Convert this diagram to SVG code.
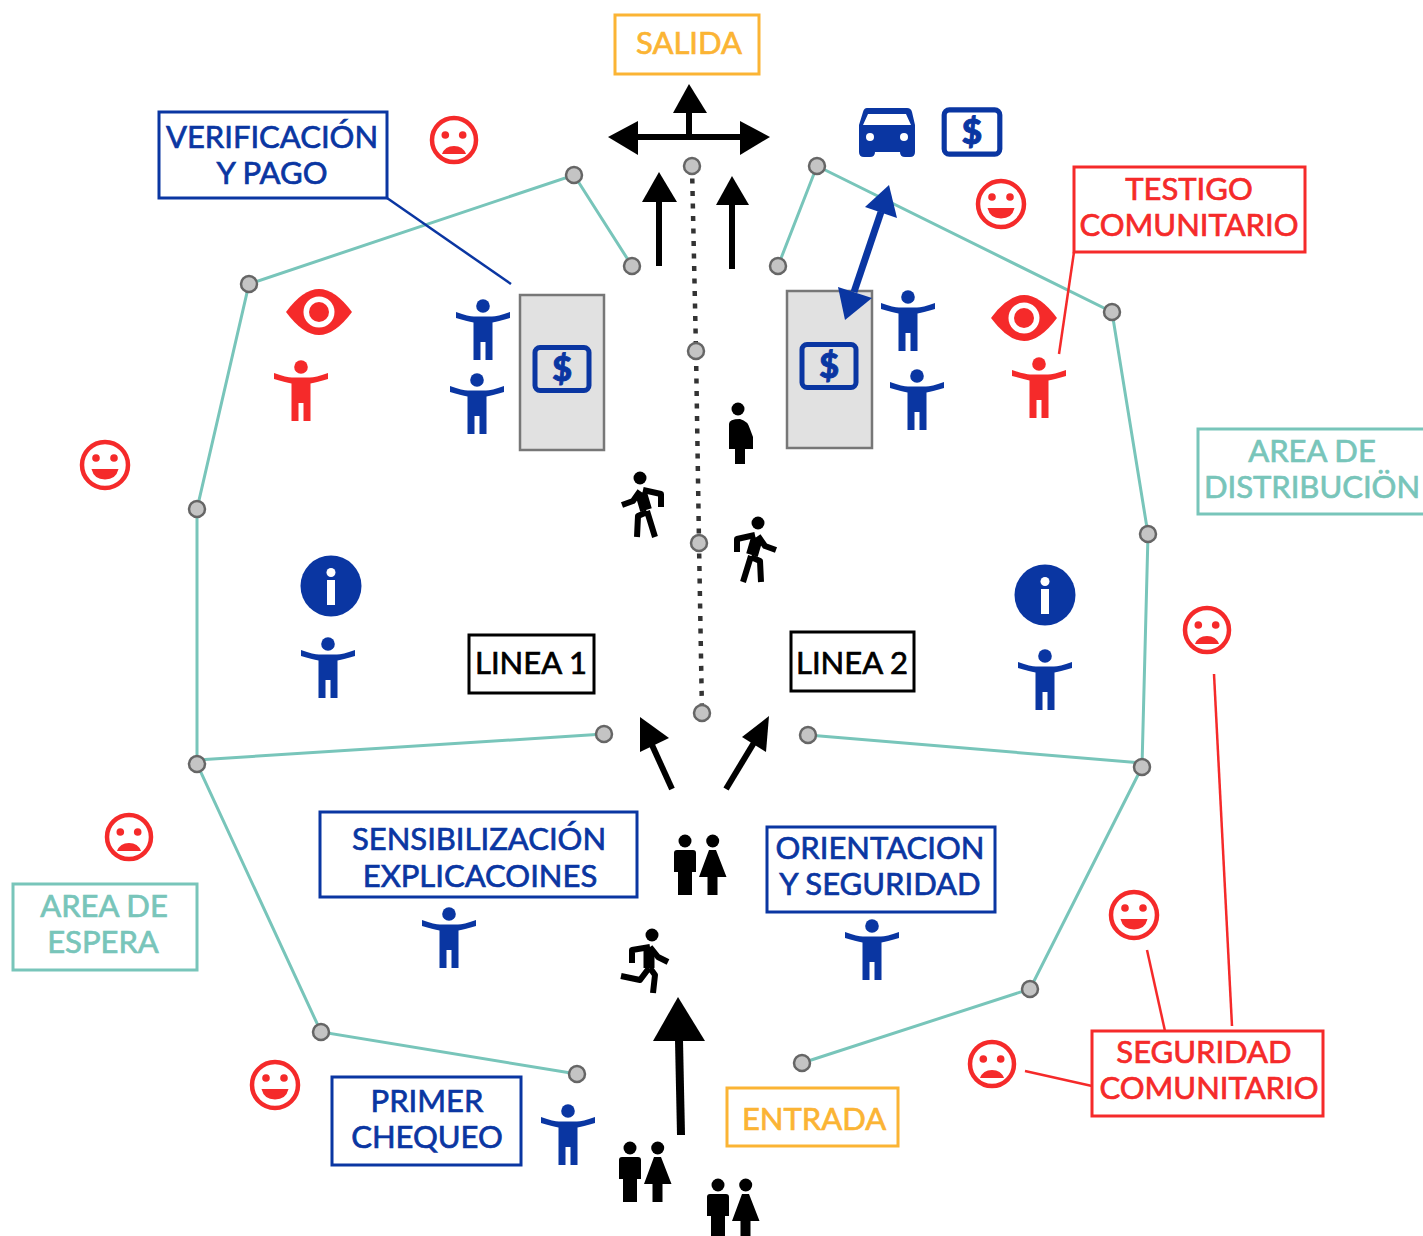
<svg xmlns="http://www.w3.org/2000/svg" width="1423" height="1236" viewBox="0 0 1423 1236">
<style>
.b{fill:#fff;stroke-width:3}
.t{font-family:Lato,"Liberation Sans",sans-serif;font-size:31px;text-anchor:middle;stroke-width:.7}
.blue{stroke:#0a36a2}.tb{fill:#0a36a2;stroke:#0a36a2}
.red{stroke:#f52a2a}.tr{fill:#f52a2a;stroke:#f52a2a}
.org{stroke:#fbb434}.to{fill:#fbb434;stroke:#fbb434}
.tea{stroke:#78c5ba}.tt{fill:#78c5ba;stroke:#78c5ba}
.blk{stroke:#000}.tk{fill:#000;stroke:#000}
.wire{fill:none;stroke:#78c5ba;stroke-width:3}
.dot{fill:none;stroke:#333;stroke-width:4.500;stroke-dasharray:5 7.500}
.n{fill:#c4c4c4;stroke:#666;stroke-width:2.500}
.ar{fill:none;stroke:#000;stroke-width:6}
.ln{fill:none;stroke-width:2.500}
.i{fill:none;stroke:#000;stroke-linejoin:round}
</style>
<defs>
<symbol id="person" overflow="visible"><circle cx="0" cy="0" r="6.800"/><path d="M-27,6 Q-14,10.500 -9,10.500 L9,10.500 Q14,10.500 27,6 L27,12 Q16,15 9.500,16.500 L9.500,54 L2.500,54 L2.500,36 L-2.500,36 L-2.500,54 L-9.500,54 L-9.500,16.500 Q-16,15 -27,12Z"/></symbol>
<symbol id="walker" overflow="visible"><circle cx="0" cy="0" r="6.500" fill="#000"/><g class="i"><path stroke-width="6" d="M-18,27 L-7,23 L0,13 M3,12 L21,16 L21,29 M7,34 L-2,38 L-3,59 M7,33 L15,59"/><path stroke-width="12" d="M1,15 L6,32"/></g></symbol>
<symbol id="runner" overflow="visible"><circle cx="0" cy="0" r="6.500" fill="#000"/><g class="i"><path stroke-width="6" d="M-2,12 L6,22 L16,27 M-2,12 L-20,15 L-20,28 M-3,33 L-12,45 L-31,41 M-2,33 L3,40 L1,58"/><path stroke-width="11" d="M-3,14 L-3,33"/></g></symbol>
<symbol id="pregnant" overflow="visible"><circle cx="0" cy="0" r="6.500"/><path d="M-9,15 Q-9,10 2,10 Q10,12 12,20 L15,28 L15,40 L7,40 L7,55 L-3,55 L-3,40 L-9,40Z"/></symbol>
<symbol id="couple" overflow="visible"><circle cx="0" cy="0" r="6.500"/><circle cx="27.700" cy="0" r="6.500"/><path d="M-8,9 L8,9 Q11,9 11,12 L11,31 L7,31 L7,54 L-7,54 L-7,31 L-11,31 L-11,12 Q-11,9 -8,9Z"/><path d="M24,9 L31,9 L41.500,36 L32.500,36 L32.500,54 L22.500,54 L22.500,36 L14,36Z"/></symbol>
<symbol id="happy" overflow="visible"><circle r="23" fill="#fff" stroke="#f52a2a" stroke-width="4.500"/><circle cx="-9" cy="-7" r="3.800" fill="#f52a2a"/><circle cx="9" cy="-7" r="3.800" fill="#f52a2a"/><path d="M-13.500,4 L13.500,4 Q11,14.500 0,14.500 Q-11,14.500 -13.500,4Z" fill="#f52a2a"/></symbol>
<symbol id="sad" overflow="visible"><circle r="22" fill="#fff" stroke="#f52a2a" stroke-width="4.500"/><circle cx="-8.700" cy="-5" r="3.800" fill="#f52a2a"/><circle cx="8.700" cy="-5" r="3.800" fill="#f52a2a"/><path d="M-12,14 Q-9,6 0,6 Q9,6 12,14 Z" fill="#f52a2a"/></symbol>
<symbol id="eye" overflow="visible"><path d="M-33,0 Q-16,-23 0,-23 Q16,-23 33,0 Q16,23 0,23 Q-16,23 -33,0Z" fill="#f52a2a"/><circle r="15.500" fill="#fff"/><circle r="10" fill="#f52a2a"/></symbol>
<symbol id="money" overflow="visible"><rect x="-27" y="-21.500" width="54" height="43" rx="5" fill="none" stroke="#0a36a2" stroke-width="5"/><text x="0" y="12" text-anchor="middle" font-family="Lato,'Liberation Sans',sans-serif" font-weight="900" font-size="34" fill="#0a36a2" stroke="#0a36a2" stroke-width="1">$</text></symbol>
<symbol id="info" overflow="visible"><circle r="30.500" fill="#0a36a2"/><circle cy="-13.500" r="4.500" fill="#fff"/><rect x="-4" y="-6" width="8" height="25" fill="#fff"/></symbol>
</defs>
<rect width="1423" height="1236" fill="#fff"/>
<g id="connectors">
<path class="wire" d="M632,266 L574,175 L249,284 L197,509 L197,764 L321,1032 L577,1074"/>
<path class="wire" d="M197,760 L604,734"/>
<path class="wire" d="M778,266 L817,166 L1112,312 L1148,534 L1142,767 L1030,989 L802,1063"/>
<path class="wire" d="M1142,763 L808,735"/>
<path class="dot" d="M692,166 L696,351 L699,543 L702,713"/>
<path class="ln blue" d="M387,198 L511,284"/>
<path class="ln red" d="M1074,252 L1059,354"/>
<path class="ln red" d="M1214,674 L1232,1026"/>
<path class="ln red" d="M1147,950 L1165,1031"/>
<path class="ln red" d="M1025,1071 L1092,1086"/>
</g>
<g id="waypoints">
<circle class="n" cx="574" cy="175" r="8"/><circle class="n" cx="632" cy="266" r="8"/><circle class="n" cx="249" cy="284" r="8"/><circle class="n" cx="197" cy="509" r="8"/><circle class="n" cx="197" cy="764" r="8"/><circle class="n" cx="321" cy="1032" r="8"/><circle class="n" cx="577" cy="1074" r="8"/><circle class="n" cx="604" cy="734" r="8"/>
<circle class="n" cx="692" cy="166" r="8"/><circle class="n" cx="696" cy="351" r="8"/><circle class="n" cx="699" cy="543" r="8"/><circle class="n" cx="702" cy="713" r="8"/>
<circle class="n" cx="778" cy="266" r="8"/><circle class="n" cx="817" cy="166" r="8"/><circle class="n" cx="1112" cy="312" r="8"/><circle class="n" cx="1148" cy="534" r="8"/><circle class="n" cx="1142" cy="767" r="8"/><circle class="n" cx="1030" cy="989" r="8"/><circle class="n" cx="802" cy="1063" r="8"/><circle class="n" cx="808" cy="735" r="8"/>
</g>
<g id="booth-left"><rect x="520" y="295" width="84" height="155" fill="#e1e1e1" stroke="#777" stroke-width="2.500"/><use href="#money" x="562" y="369"/></g>
<g id="booth-right"><rect x="787" y="291" width="85" height="157" fill="#e1e1e1" stroke="#777" stroke-width="2.500"/><use href="#money" x="829" y="366"/></g>
<g id="arrows">
<path class="ar" d="M636,137 L742,137" stroke-width="5"/><path class="ar" d="M689,137 L689,110"/>
<polygon points="608,137 638,121 638,155"/><polygon points="770,137 740,121 740,155"/><polygon points="689,84 673,113 707,113"/>
<path class="ar" d="M659,266 L659,200"/><polygon points="659,172 642,202 677,202"/>
<path class="ar" d="M732,269 L732,203"/><polygon points="732,176 716,205 749,205"/>
<path class="ar" d="M672,789 L652,745"/><polygon points="640,717 669,738 640,752"/>
<path class="ar" d="M726,789 L755,741"/><polygon points="769,716 742,737 766,752"/>
<path d="M681,1135 L679,1040" fill="none" stroke="#000" stroke-width="8"/><polygon points="678,997 653,1041 705,1041"/>
<path d="M881,212 L854,292" fill="none" stroke="#0a36a2" stroke-width="7"/><polygon points="889,185 865,207 897,218" fill="#0a36a2"/><polygon points="845,320 838,287 872,298" fill="#0a36a2"/>
</g>
<g id="car"><path d="M867,108 L907,108 Q911,108 912,112 L915,125 L915,152 Q915,157 910,157 L905,157 Q900,157 900,152 L875,152 Q875,157 870,157 L864,157 Q859,157 859,152 L859,125 L863,112 Q864,108 867,108Z M868,114 L863,125 L911,125 L906,114Z" fill="#0a36a2" fill-rule="evenodd"/><circle cx="870" cy="137" r="4" fill="#fff"/><circle cx="904" cy="137" r="4" fill="#fff"/></g>
<g id="pay"><use href="#money" transform="translate(972,132) scale(1.03)"/></g>
<g id="people-blue" fill="#0a36a2">
<use href="#person" x="483" y="306"/><use href="#person" x="477" y="380"/><use href="#person" x="908" y="297"/><use href="#person" x="917" y="376"/><use href="#person" x="328" y="644"/><use href="#person" x="1045" y="656"/><use href="#person" x="449" y="914"/><use href="#person" x="872" y="926"/><use href="#person" x="568" y="1111"/>
</g>
<g id="people-red" fill="#f52a2a"><use href="#person" x="301" y="367"/><use href="#person" x="1039" y="364"/></g>
<g id="people-black" fill="#000">
<use href="#walker" x="640" y="478"/><use href="#walker" transform="translate(758,523) scale(-1,1)"/><use href="#pregnant" x="738" y="409"/><use href="#runner" x="652" y="935"/><use href="#couple" x="685" y="841"/><use href="#couple" x="630" y="1148"/><use href="#couple" x="718" y="1185"/>
</g>
<g id="eyes"><use href="#eye" x="319" y="312"/><use href="#eye" x="1024" y="318"/></g>
<g id="info-signs"><use href="#info" x="331" y="586"/><use href="#info" x="1045" y="595"/></g>
<g id="faces">
<use href="#sad" x="454" y="140"/><use href="#happy" x="1001" y="204"/><use href="#happy" x="105" y="465"/><use href="#sad" x="1207" y="630"/><use href="#sad" x="129" y="837"/><use href="#happy" x="1134" y="915"/><use href="#sad" x="992" y="1064"/><use href="#happy" x="275" y="1085"/>
</g>
<g id="salida"><rect class="b org" x="615" y="15" width="144" height="59"/><text class="t to" x="689" y="54">SALIDA</text></g>
<g id="verificacion"><rect class="b blue" x="159" y="112" width="228" height="86"/><text class="t tb" x="272" y="148">VERIFICACIÓN</text><text class="t tb" x="272" y="184">Y PAGO</text></g>
<g id="testigo"><rect class="b red" x="1074" y="167" width="231" height="85"/><text class="t tr" x="1189" y="200">TESTIGO</text><text class="t tr" x="1189" y="236">COMUNITARIO</text></g>
<g id="distribucion"><rect class="b tea" x="1198" y="429" width="230" height="85"/><text class="t tt" x="1312" y="462">AREA DE</text><text class="t tt" x="1312" y="498">DISTRIBUCIÖN</text></g>
<g id="linea1"><rect class="b blk" x="469" y="635" width="125" height="58"/><text class="t tk" x="531" y="674">LINEA 1</text></g>
<g id="linea2"><rect class="b blk" x="791" y="632" width="123" height="59"/><text class="t tk" x="852" y="674">LINEA 2</text></g>
<g id="sensibilizacion"><rect class="b blue" x="320" y="812" width="317" height="85"/><text class="t tb" x="479" y="850">SENSIBILIZACIÓN</text><text class="t tb" x="480" y="887">EXPLICACOINES</text></g>
<g id="orientacion"><rect class="b blue" x="767" y="827" width="228" height="85"/><text class="t tb" x="880" y="859">ORIENTACION</text><text class="t tb" x="880" y="895">Y SEGURIDAD</text></g>
<g id="espera"><rect class="b tea" x="13" y="884" width="184" height="86"/><text class="t tt" x="104" y="917">AREA DE</text><text class="t tt" x="103" y="953">ESPERA</text></g>
<g id="chequeo"><rect class="b blue" x="332" y="1077" width="189" height="88"/><text class="t tb" x="427" y="1112">PRIMER</text><text class="t tb" x="427" y="1148">CHEQUEO</text></g>
<g id="entrada"><rect class="b org" x="727" y="1088" width="171" height="58"/><text class="t to" x="814" y="1130">ENTRADA</text></g>
<g id="seguridad"><rect class="b red" x="1092" y="1031" width="231" height="85"/><text class="t tr" x="1204" y="1063">SEGURIDAD</text><text class="t tr" x="1209" y="1099">COMUNITARIO</text></g>
</svg>
